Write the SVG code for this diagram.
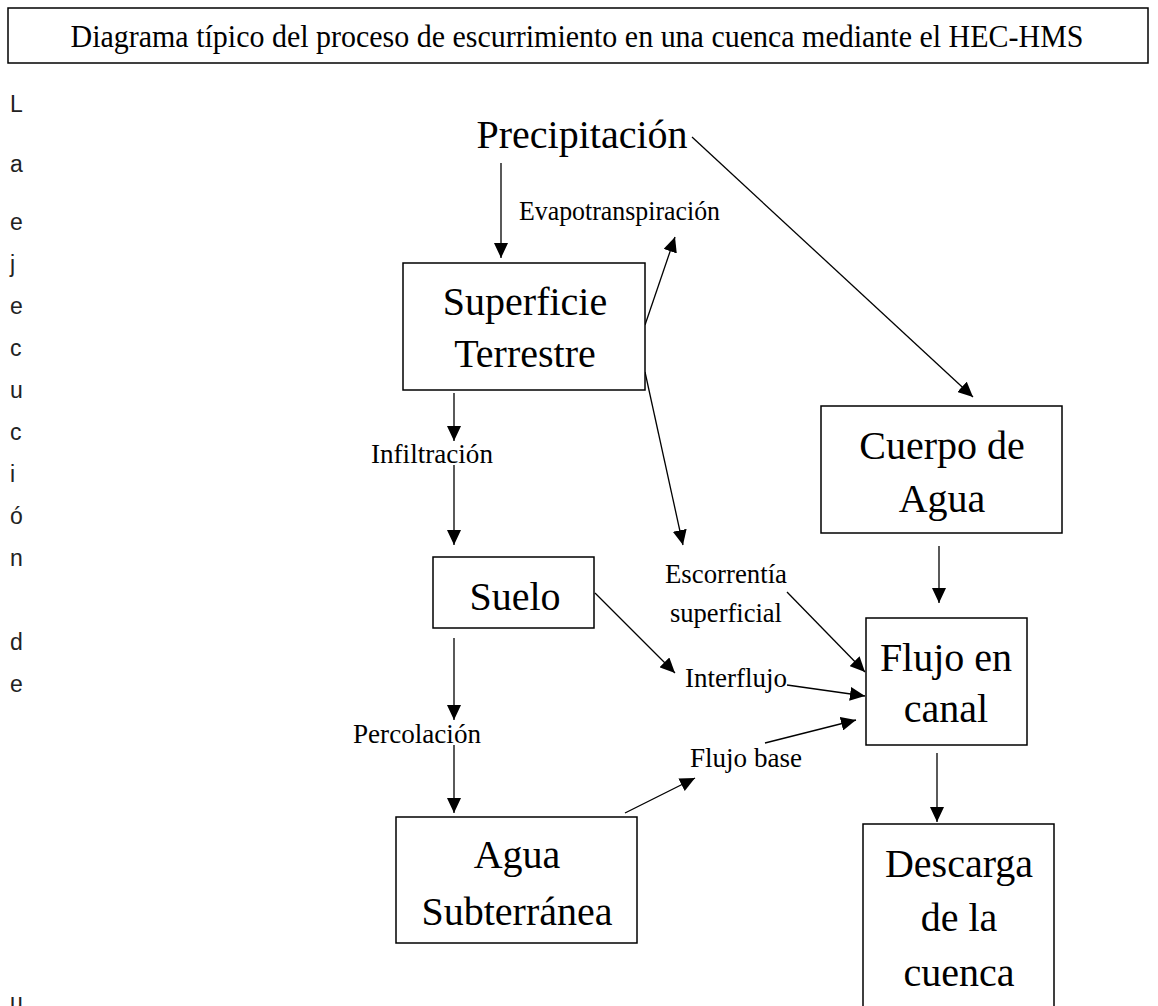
<svg xmlns="http://www.w3.org/2000/svg" width="1158" height="1006" viewBox="0 0 1158 1006">
<style>
  .box { fill: #fff; stroke: #000; stroke-width: 1.5; }
  .node { font-family: "Liberation Serif", "Times New Roman", serif; font-size: 40px; fill: #000; text-anchor: middle; }
  .lbl { font-family: "Liberation Serif", "Times New Roman", serif; font-size: 28px; fill: #000; }
  .title { font-family: "Liberation Serif", "Times New Roman", serif; font-size: 31px; fill: #000; text-anchor: middle; }
  .side { font-family: "Liberation Sans", Arial, sans-serif; font-size: 23px; fill: #222; }
  .conn line { stroke: #000; stroke-width: 1.3; fill: none; marker-end: url(#arrow); }
</style>
<defs>
  <marker id="arrow" markerUnits="userSpaceOnUse" markerWidth="16" markerHeight="14" refX="15" refY="7" orient="auto">
    <path d="M0,0 L15,7 L0,14 z" fill="#000"/>
  </marker>
</defs>
<rect width="1158" height="1006" fill="#fff"/>

<g id="title">
  <rect class="box" x="8" y="8" width="1140" height="55"/>
  <text class="title" x="577" y="47" textLength="1013" lengthAdjust="spacingAndGlyphs">Diagrama típico del proceso de escurrimiento en una cuenca mediante el HEC-HMS</text>
</g>

<g id="side-text" class="side">
  <text x="10" y="112">L</text>
  <text x="10" y="172">a</text>
  <text x="10" y="230">e</text>
  <text x="10" y="272">j</text>
  <text x="10" y="314">e</text>
  <text x="10" y="356">c</text>
  <text x="10" y="398">u</text>
  <text x="10" y="440">c</text>
  <text x="10" y="482">i</text>
  <text x="10" y="524">ó</text>
  <text x="10" y="566">n</text>
  <text x="10" y="650">d</text>
  <text x="10" y="692">e</text>
  <text x="10" y="1010">u</text>
</g>

<g id="connectors" class="conn">
  <line x1="501" y1="163" x2="501" y2="258"/>
  <line x1="645" y1="325" x2="675" y2="237"/>
  <line x1="692" y1="137" x2="973" y2="397"/>
  <line x1="454" y1="393" x2="454" y2="441"/>
  <line x1="454" y1="465" x2="454" y2="545"/>
  <line x1="645" y1="372" x2="683" y2="545"/>
  <line x1="595" y1="593" x2="675" y2="673"/>
  <line x1="454" y1="638" x2="454" y2="720"/>
  <line x1="454" y1="745" x2="454" y2="813"/>
  <line x1="625" y1="813" x2="695" y2="778"/>
  <line x1="787" y1="592" x2="865" y2="672"/>
  <line x1="787" y1="685" x2="865" y2="696"/>
  <line x1="765" y1="743" x2="856" y2="720"/>
  <line x1="939" y1="546" x2="939" y2="603"/>
  <line x1="937" y1="753" x2="937" y2="822"/>
</g>

<g id="precipitacion">
  <text class="node" x="582" y="148">Precipitación</text>
</g>

<g id="superficie">
  <rect class="box" x="403" y="263" width="242" height="127"/>
  <text class="node" x="525" y="315">Superficie</text>
  <text class="node" x="525" y="367">Terrestre</text>
</g>

<g id="evapotranspiracion">
  <text class="lbl" x="519" y="220" textLength="201" lengthAdjust="spacingAndGlyphs">Evapotranspiración</text>
</g>

<g id="infiltracion">
  <text class="lbl" x="371" y="463" textLength="122" lengthAdjust="spacingAndGlyphs">Infiltración</text>
</g>

<g id="suelo">
  <rect class="box" x="433" y="557" width="161" height="71"/>
  <text class="node" x="515" y="610">Suelo</text>
</g>

<g id="percolacion">
  <text class="lbl" x="353" y="743" textLength="128" lengthAdjust="spacingAndGlyphs">Percolación</text>
</g>

<g id="agua-subterranea">
  <rect class="box" x="396" y="817" width="241" height="126"/>
  <text class="node" x="517" y="868">Agua</text>
  <text class="node" x="517" y="925">Subterránea</text>
</g>

<g id="escorrentia">
  <text class="lbl" x="665" y="583" textLength="122" lengthAdjust="spacingAndGlyphs">Escorrentía</text>
  <text class="lbl" x="670" y="622" textLength="112" lengthAdjust="spacingAndGlyphs">superficial</text>
</g>

<g id="interflujo">
  <text class="lbl" x="685" y="687" textLength="102" lengthAdjust="spacingAndGlyphs">Interflujo</text>
</g>

<g id="flujo-base">
  <text class="lbl" x="690" y="767" textLength="112" lengthAdjust="spacingAndGlyphs">Flujo base</text>
</g>

<g id="cuerpo-de-agua">
  <rect class="box" x="821" y="406" width="241" height="127"/>
  <text class="node" x="942" y="459">Cuerpo de</text>
  <text class="node" x="942" y="512">Agua</text>
</g>

<g id="flujo-en-canal">
  <rect class="box" x="866" y="618" width="161" height="127"/>
  <text class="node" x="946" y="671">Flujo en</text>
  <text class="node" x="946" y="722">canal</text>
</g>

<g id="descarga">
  <rect class="box" x="863" y="824" width="191" height="200"/>
  <text class="node" x="959" y="877">Descarga</text>
  <text class="node" x="959" y="931">de la</text>
  <text class="node" x="959" y="986">cuenca</text>
</g>
</svg>
